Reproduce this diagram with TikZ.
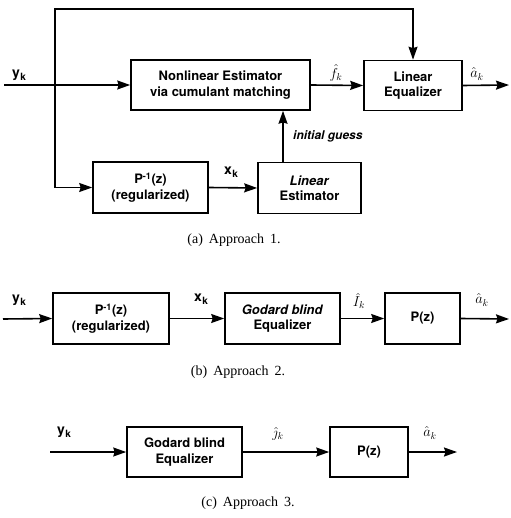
\documentclass[tikz,border=0pt]{standalone}
\usepackage{fontspec}
\setmainfont{Liberation Serif}
\setsansfont{TeX Gyre Heros}
\usetikzlibrary{arrows.meta}
\newcommand{\sgsub}[2]{#1\kern0.6pt\raisebox{-2.8pt}{\fontsize{10}{10}\selectfont #2}}
\begin{document}
\begin{tikzpicture}[x=1pt,y=-1pt,
  blk/.style={draw,line width=1.6pt,inner sep=0pt,align=center,
    font=\sffamily\bfseries\fontsize{13}{15.5}\selectfont},
  sig/.style={line width=1.6pt,-{Stealth[length=13pt,width=9pt,inset=1.5pt]}},
  wire/.style={line width=1.6pt},
  lbl/.style={inner sep=0pt,font=\sffamily\bfseries\fontsize{14}{14}\selectfont},
  mlbl/.style={inner sep=0pt,font=\fontsize{14}{14}\selectfont},
  captxt/.style={inner sep=0pt,font=\fontsize{14}{16}\selectfont}]
\useasboundingbox (0,0) rectangle (510,518);

% ---------------- Approach 1 ----------------
\node[blk,minimum width=179pt,minimum height=50pt] (nl) at (220.5,85) {Nonlinear Estimator\\via cumulant matching};
\node[blk,minimum width=98pt,minimum height=50pt] (le) at (413,85.5) {Linear\\Equalizer};
\node[blk,minimum width=115pt,minimum height=51pt] (pi1) at (150.5,187.5) {P\textsuperscript{-1}(z)\\(regularized)};
\node[blk,minimum width=103pt,minimum height=51pt] (lest) at (309.5,188) {\textit{Linear}\\Estimator};

\coordinate (in1) at (4,85);
\coordinate (j1) at (55,85);
\coordinate (top1) at (55,9);
\coordinate (out1) at (509,85);
\coordinate (ig) at (283,0);

\draw[wire] (in1) -- (j1);
\draw[sig] (j1) -- (nl.west);
\draw[sig] (j1) |- (pi1.west);
\draw[sig] (j1) -- (top1) -| (le.north);
\draw[sig] (nl.east) -- (le.west);
\draw[sig] (le.east) -- (out1);
\draw[sig] (pi1.east) -- (lest.west);
\draw[sig] (lest.north -| ig) -- (nl.south -| ig);

\node[lbl] (ly1) at (19,75) {\sgsub{y}{k}};
\node[lbl] (lx1) at (231,172) {\sgsub{x}{k}};
\node[mlbl] (lf1) at (336,73) {$\hat{f}_k$};
\node[mlbl] (la1) at (477,74) {$\hat{a}_k$};
\node[inner sep=0pt,anchor=west,font=\sffamily\bfseries\itshape\fontsize{12}{12}\selectfont] (lig) at (293,136) {initial guess};

\node[captxt] (capa) at (234,240) {(a)\hspace{6pt}Approach\hspace{6pt}1.};

% ---------------- Approach 2 ----------------
\node[blk,minimum width=116pt,minimum height=51pt] (pi2) at (111,318.5) {P\textsuperscript{-1}(z)\\(regularized)};
\node[blk,minimum width=115pt,minimum height=51pt] (gd2) at (282.5,318.5) {\textit{Godard blind}\\Equalizer};
\node[blk,minimum width=75pt,minimum height=51pt] (pz2) at (422.5,318.5) {P(z)};

\coordinate (in2) at (3,319);
\coordinate (out2) at (509,319);
\draw[sig] (in2) -- (pi2.west);
\draw[sig] (pi2.east) -- (gd2.west);
\draw[sig] (gd2.east) -- (pz2.west);
\draw[sig] (pz2.east) -- (out2);

\node[lbl] (ly2) at (19,300) {\sgsub{y}{k}};
\node[lbl] (lx2) at (201,299) {\sgsub{x}{k}};
\node[mlbl] (li2) at (359,301) {$\hat{I}_k$};
\node[mlbl] (la2) at (482,300) {$\hat{a}_k$};

\node[captxt] (capb) at (238,372) {(b)\hspace{6pt}Approach\hspace{6pt}2.};

% ---------------- Approach 3 ----------------
\node[blk,minimum width=115pt,minimum height=50pt] (gd3) at (184.5,452) {Godard blind\\Equalizer};
\node[blk,minimum width=78pt,minimum height=50pt] (pz3) at (369,452) {P(z)};

\coordinate (in3) at (50,452);
\coordinate (out3) at (457,452);
\draw[sig] (in3) -- (gd3.west);
\draw[sig] (gd3.east) -- (pz3.west);
\draw[sig] (pz3.east) -- (out3);

\node[lbl] (ly3) at (64,432) {\sgsub{y}{k}};
\node[mlbl] (lj3) at (278,434) {$\hat{\jmath}_k$};
\node[mlbl] (la3) at (430,433) {$\hat{a}_k$};

\node[captxt] (capc) at (248,503) {(c)\hspace{6pt}Approach\hspace{6pt}3.};
\end{tikzpicture}
\end{document}
